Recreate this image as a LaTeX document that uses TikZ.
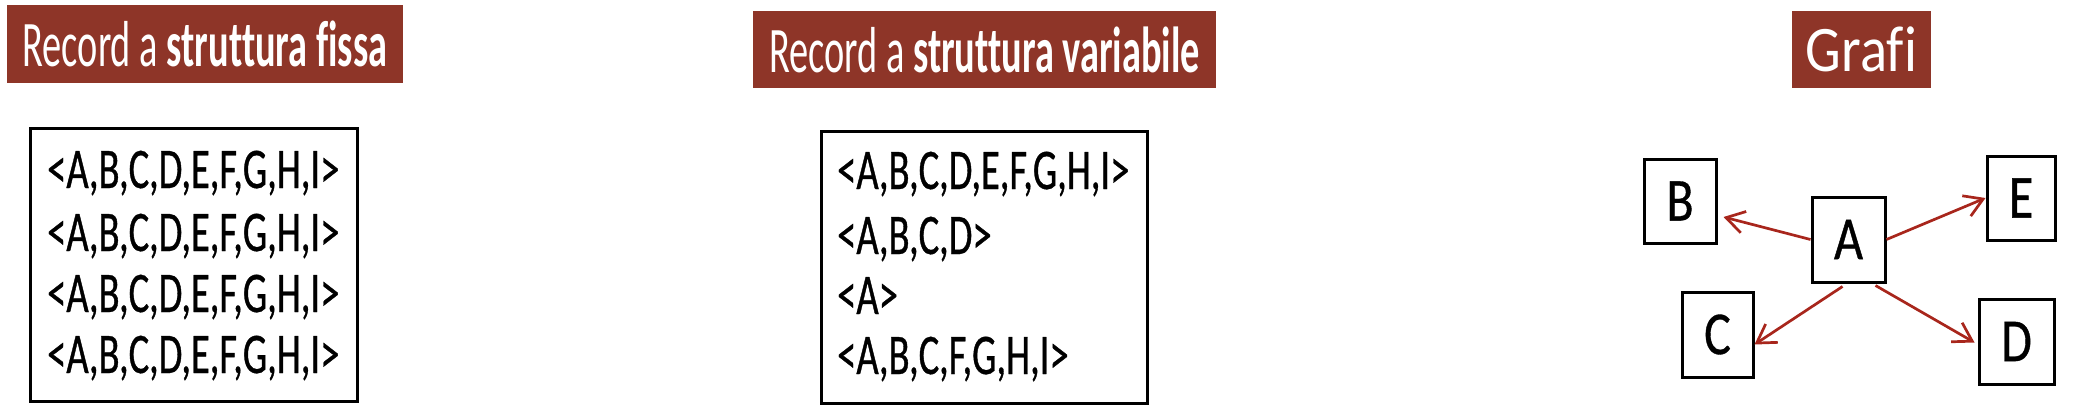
\documentclass[tikz,border=0pt]{standalone}
\usepackage{fontspec}
\setmainfont{Carlito}[Ligatures=NoCommon]
\newfontfamily\bannerfont[FakeStretch=0.59,Ligatures=NoCommon]{Carlito}
\newfontfamily\grafifont[FakeStretch=0.87,Ligatures=NoCommon]{Carlito}
\newfontfamily\recfont[FakeStretch=0.67,FakeBold=0.6]{Carlito}
\newfontfamily\vertexfont[FakeStretch=0.82,FakeBold=0.6]{Carlito}
\usetikzlibrary{arrows.meta,calc}
\definecolor{bannerred}{RGB}{142,53,40}
\definecolor{arrowred}{RGB}{168,38,28}
\begin{document}
\begin{tikzpicture}[x=1pt,y=-1pt,
  bannerbox/.style={fill=bannerred, text=white, inner sep=0pt, font=\bannerfont\fontsize{65}{70}\selectfont},
  recbox/.style={draw=black, line width=3pt, inner sep=0pt},
  recline/.style={anchor=base west, inner sep=0pt, font=\recfont\fontsize{57.5}{60}\selectfont},
  vertex/.style={draw=black, line width=3pt, inner sep=0pt, font=\vertexfont\fontsize{61}{65}\selectfont},
  edge/.style={draw=arrowred, line width=2.7pt, -{Straight Barb[length=18pt,width=22pt,line width=2.7pt]}}
]
\useasboundingbox (0,0) rectangle (2074,412);

% banners
\node[bannerbox, minimum width=396pt, minimum height=78pt] (b1) at (205,44) {Record a \textbf{struttura fissa}};
\node[bannerbox, minimum width=463pt, minimum height=77pt] (b2) at (984.5,49.5) {Record a \textbf{struttura variabile}};
\node[bannerbox, minimum width=139pt, minimum height=77pt, font=\grafifont\fontsize{65}{70}\selectfont] (b3) at (1861.5,49.5) {Grafi};

% record boxes
\node[recbox, minimum width=327pt, minimum height=273pt] (fix) at (193.5,264.5) {};
\node[recline] (f1) at (47,188) {<A,B,C,D,E,F,G,H,I>};
\node[recline] (f2) at (47,251) {<A,B,C,D,E,F,G,H,I>};
\node[recline] (f3) at (47,312) {<A,B,C,D,E,F,G,H,I>};
\node[recline] (f4) at (47,373) {<A,B,C,D,E,F,G,H,I>};

\node[recbox, minimum width=326pt, minimum height=272pt] (var) at (984,267) {};
\node[recline] (v1) at (837,189) {<A,B,C,D,E,F,G,H,I>};
\node[recline] (v2) at (837,254) {<A,B,C,D>};
\node[recline] (v3) at (837,314) {<A>};
\node[recline] (v4) at (837,374) {<A,B,C,F,G,H,I>};

% graph
\node[vertex, minimum width=73pt, minimum height=85pt] (A) at (1848.5,239.5) {A};
\node[vertex, minimum width=72pt, minimum height=84pt] (B) at (1680,201) {B};
\node[vertex, minimum width=71pt, minimum height=85pt] (C) at (1717.5,334.5) {C};
\node[vertex, minimum width=75pt, minimum height=85pt] (D) at (2016.5,341.5) {D};
\node[vertex, minimum width=68pt, minimum height=84pt] (E) at (2021,198) {E};

\draw[edge] (A.west) -- ($(B.east)+(6,16)$);
\draw[edge] (A.east) -- (E.west);
\draw[edge] ($(A.south)+(-6,3)$) -- ($(C.east)+(0,10)$);
\draw[edge] ($(A.south)+(27,2)$) -- ($(D.west)+(-3,1)$);
\end{tikzpicture}
\end{document}
